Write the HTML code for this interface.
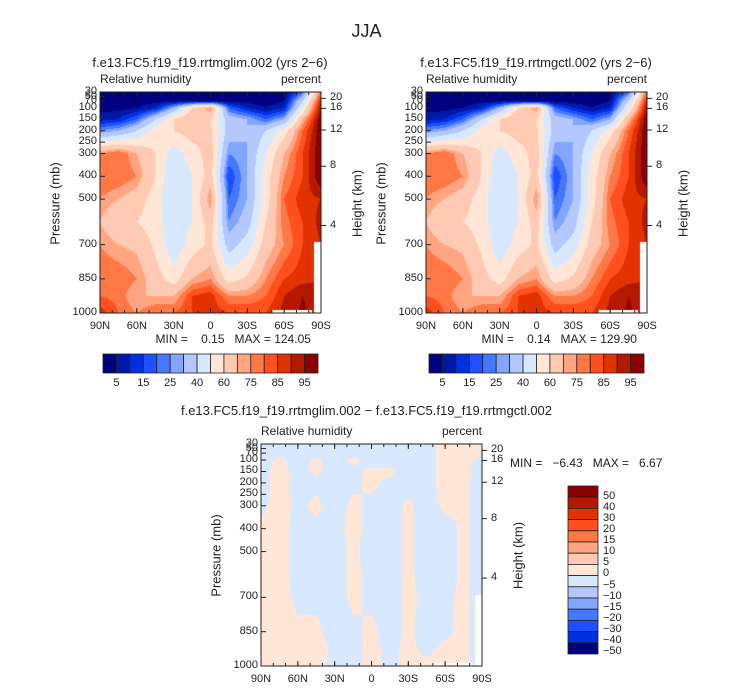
<!DOCTYPE html>
<html><head><meta charset="utf-8">
<style>
body{margin:0;background:#fff;width:733px;height:689px;position:relative;overflow:hidden;font-family:"Liberation Sans",sans-serif;color:#222}
.t{position:absolute;white-space:pre;font-size:12px;line-height:1}
canvas{position:absolute}
svg{position:absolute;left:0;top:0}
</style></head><body>
<div class="t" style="left:0;width:733px;text-align:center;top:22px;font-size:18px">JJA</div>
<div class="t" style="left:40px;width:340px;text-align:center;top:56px;font-size:13px">f.e13.FC5.f19_f19.rrtmglim.002 (yrs 2−6)</div>
<div class="t" style="left:366px;width:340px;text-align:center;top:56px;font-size:13px">f.e13.FC5.f19_f19.rrtmgctl.002 (yrs 2−6)</div>
<div class="t" style="left:0;width:733px;text-align:center;top:404px;font-size:13px">f.e13.FC5.f19_f19.rrtmglim.002 − f.e13.FC5.f19_f19.rrtmgctl.002</div>
<canvas id="c1" width="221" height="221" style="left:100px;top:92px"></canvas>
<canvas id="c2" width="221" height="221" style="left:426px;top:92px"></canvas>
<canvas id="c3" width="221" height="222" style="left:261px;top:444px"></canvas>
<svg id="s" width="733" height="689"></svg>
<div id="lab"></div>
<script>
const lats=[90,75,60,45,30,15,0,-15,-30,-45,-60,-75,-90];
const plev=[30,70,100,150,200,300,400,500,600,700,850,925,1000];
const rhA=[
[2,2,3,8,25,75,80,75,70,75,80,80,88],
[2,2,3,10,30,80,80,70,60,70,80,78,80],
[2,2,5,20,40,70,75,65,60,68,75,70,75],
[2,3,10,40,55,60,60,55,55,58,65,70,80],
[2,4,30,60,60,45,40,40,42,43,55,70,80],
[2,5,60,70,65,55,50,50,50,55,70,85,85],
[2,5,75,60,62,65,65,75,65,62,75,88,88],
[2,3,20,35,35,25,15,20,25,35,55,75,85],
[2,3,10,30,30,30,30,30,35,45,62,75,85],
[2,2,5,20,40,50,55,55,60,65,75,80,85],
[2,5,10,30,55,70,75,80,78,75,85,90,92],
[20,40,50,70,80,85,85,88,85,85,88,95,96],
[80,90,95,100,100,100,100,90,92,90,90,92,92]];
const rhB=[
[2,2,3,8,25,75,80,75,70,75,80,80,88],
[2,2,3,10,30,80,80,70,60,70,80,78,80],
[2,2,5,20,40,70,75,65,60,68,75,70,75],
[2,3,10,40,55,60,60,55,55,58,65,70,80],
[2,4,30,60,60,45,40,40,42,43,55,70,80],
[2,5,60,70,65,55,50,50,50,55,70,85,85],
[2,5,75,60,62,65,65,75,65,62,75,88,88],
[2,3,20,35,35,25,15,20,25,35,55,75,85],
[2,3,10,30,30,30,30,30,35,45,62,75,85],
[2,2,5,20,40,50,55,55,60,65,75,80,85],
[2,5,10,30,55,70,75,80,78,75,85,90,92],
[20,40,50,70,80,85,85,88,85,85,88,95,96],
[80,90,95,100,100,100,100,90,92,90,90,92,92]];
const diff=[
[-2,-2,-2,-2,-2,-1,1,1,1,1,1,1,1],
[-2,-2,1,2,2,2,2,2,2,2,2,2,2],
[-2,-2,-2,-2,-2,-1,-2,-2,-2,-1,1,1,2],
[-2,-2,1,1,-1,1,-1,-1,-1,-1,1,2,1],
[-2,-2,-2,-2,-2,-2,-1,-2,-2,-2,-2,-1,-1],
[-2,-2,1,-1,-1,1,1,1,1,1,-1,-1,-1],
[-2,-2,-2,1,1,-1,-1,-2,-1,-1,1,1,1],
[-2,-2,-2,1,-1,-2,-2,-2,-2,-2,-2,-1,-1],
[-2,-2,-2,-2,-2,1,1,1,1,1,1,1,1],
[-2,-2,-2,-2,-2,-2,-2,-2,-2,-1,-2,-1,1],
[2,2,2,2,2,1,-2,-2,-2,-1,-1,1,1],
[2,2,2,2,1,1,1,1,1,1,1,1,1],
[1,1,-2,-3,-2,-2,-2,-2,-2,-2,-2,-2,-2]];
const rhLevels=[5,10,15,20,25,30,40,50,60,70,75,80,85,90,95];
const rhLabels=["5","15","25","40","60","75","85","95"];
const dLevels=[-40,-30,-20,-15,-10,-5,0,5,10,15,20,30,40,50];
const dLabels=["50","40","30","20","15","10","5","0","−5","−10","−15","−20","−30","−40","−50"];
const pTicks=[30,50,70,100,150,200,250,300,400,500,700,850,1000];
const hTicks=[[20,58],[16,102],[12,197],[8,356],[4,616]];
const latTicks=["90N","60N","30N","0","30S","60S","90S"];
const missing=[[-50,-83,985],[-84,-90,690]];
const cols=["#000080","#0019a8","#0030e0","#1e50ff","#4678ff","#82a5ff","#b4c8ff","#d7e8ff","#ffe6d7","#ffcab4","#ffa582","#ff7846","#ff501e","#e13200","#b41900","#8c0000"];
const dcols=["#000080","#0030e0","#1e50ff","#4678ff","#82a5ff","#b4c8ff","#d7e8ff","#ffe6d7","#ffcab4","#ffa582","#ff7846","#ff501e","#e13200","#b41900","#8c0000"];
function hex(h){return [parseInt(h.slice(1,3),16),parseInt(h.slice(3,5),16),parseInt(h.slice(5,7),16)]}
function sample(g,lat,p){
 let fi=(90-lat)/15;let i=Math.min(11,Math.floor(fi));let fx=fi-i;
 let j=0;while(j<11&&plev[j+1]<p)j++;let fy=(p-plev[j])/(plev[j+1]-plev[j]);
 return g[i][j]*(1-fx)*(1-fy)+g[i+1][j]*fx*(1-fy)+g[i][j+1]*(1-fx)*fy+g[i+1][j+1]*fx*fy;}
function drawField(id,g,levels,palette){
 const c=document.getElementById(id),ctx=c.getContext('2d'),W=c.width,H=c.height;
 const im=ctx.createImageData(W,H);const pc=palette.map(hex);
 for(let y=0;y<H;y++)for(let x=0;x<W;x++){
  const lat=90-(x+0.5)/W*180,p=30+(y+0.5)/H*970;
  let miss=missing.some(m=>lat<=m[0]&&lat>=m[1]&&p>=m[2]);
  let k=(y*W+x)*4;
  if(miss){im.data[k]=im.data[k+1]=im.data[k+2]=255;im.data[k+3]=255;continue;}
  const v=sample(g,lat,p);let ci=0;while(ci<levels.length&&v>=levels[ci])ci++;
  const col=pc[ci];im.data[k]=col[0];im.data[k+1]=col[1];im.data[k+2]=col[2];im.data[k+3]=255;}
 ctx.putImageData(im,0,0);}
drawField('c1',rhA,rhLevels,cols);
drawField('c2',rhB,rhLevels,cols);
drawField('c3',diff,dLevels,dcols);
const S=document.getElementById('s'),L=document.getElementById('lab');
const NS='http://www.w3.org/2000/svg';
function ln(x1,y1,x2,y2,n){const e=document.createElementNS(NS,'line');e.setAttribute('x1',x1);e.setAttribute('y1',y1);e.setAttribute('x2',x2);e.setAttribute('y2',y2);e.setAttribute('stroke','#222');e.setAttribute('stroke-width','1');


S.appendChild(e);return e;}
function rc(x,y,w,h,f,n){const e=document.createElementNS(NS,'rect');e.setAttribute('x',x);e.setAttribute('y',y);e.setAttribute('width',w);e.setAttribute('height',h);e.setAttribute('fill',f);e.setAttribute('stroke','#222');e.setAttribute('stroke-width','0.8');


S.appendChild(e);}
function tx(s,x,y,al,n,fs,rot){const d=document.createElement('div');d.className='t';d.textContent=s;d.style.top=(y-6)+'px';d.style.fontSize=(fs||11)+'px';
if(al==='r'){d.style.right=(733-x)+'px';}else if(al==='c'){d.style.left=(x-40)+'px';d.style.width='80px';d.style.textAlign='center';}else d.style.left=x+'px';
if(rot){d.style.transform='rotate(-90deg)';d.style.transformOrigin='center';}


L.appendChild(d);return d;}
function panel(x0,y0,W,H,minmax,pfx){
 const fr=document.createElementNS(NS,'rect');fr.setAttribute('x',x0);fr.setAttribute('y',y0);fr.setAttribute('width',W);fr.setAttribute('height',H);fr.setAttribute('fill','none');fr.setAttribute('stroke','#222');
 
 
 S.appendChild(fr);
 const py=p=>y0+(p-30)/970*H;
 pTicks.forEach(p=>{const y=py(p);ln(x0,y,x0+5,y,pfx+'-pressure-tick');tx(String(p),x0-3,y,'r',pfx+'-pressure-label');});
 hTicks.forEach(h=>{const y=py(h[1]);ln(x0+W,y,x0+W+5,y,pfx+'-height-tick');tx(String(h[0]),x0+W+9,y,'l',pfx+'-height-label');});
 latTicks.forEach((s,i)=>{const x=x0+i*W/6;ln(x,y0+H,x,y0+H-5,pfx+'-lat-tick');ln(x,y0,x,y0+5,pfx+'-lat-tick-top');tx(s,x,y0+H+14,'c',pfx+'-lat-label');});
 for(let i=0;i<18;i++){const x=x0+i*W/18;ln(x,y0+H,x,y0+H-3,pfx+'-lat-minor');ln(x,y0,x,y0+3,pfx+'-lat-minor-top');}
 tx('Relative humidity',x0,y0-13,'l',pfx+'-variable-label',12);
 tx('percent',x0+W,y0-13,'r',pfx+'-units-label',12);
 const a=tx('Pressure (mb)',x0-95,y0+H/2,'c',pfx+'-y-axis-title',13,true);a.style.width='120px';a.style.left=(x0-105)+'px';
 const b=tx('Height (km)',x0+W+-10,y0+H/2,'c',pfx+'-y2-axis-title',13,true);b.style.width='100px';b.style.left=(x0+W-14)+'px';
 if(minmax)tx(minmax,x0+W/2-55,y0+H+26,'l',pfx+'-min-max',12);
}
panel(100,92,221,221,'MIN =    0.15   MAX = 124.05','left');
panel(426,92,221,221,'MIN =    0.14   MAX = 129.90','right');
panel(261,444,221,222,null,'diff');
tx('MIN =   −6.43   MAX =   6.67',510,463,'l','diff-min-max',12);
function hbar(x0,pfx){const w=215/16;cols.forEach((c,i)=>rc(x0+i*w,354,w,19,c,pfx+'-colorbar-box'));
 rhLabels.forEach((s,i)=>tx(s,x0+(2*i+1)*w,384,'c',pfx+'-colorbar-label',11));}
hbar(103,'left');hbar(429,'right');
const dh=168/15;dcols.slice().reverse().forEach((c,i)=>rc(568,486+i*dh,30,dh,c,'diff-colorbar-box'));
dLabels.forEach((s,i)=>tx(s,603,497+i*11.07,'l','diff-colorbar-label',11));
</script>
</body></html>
